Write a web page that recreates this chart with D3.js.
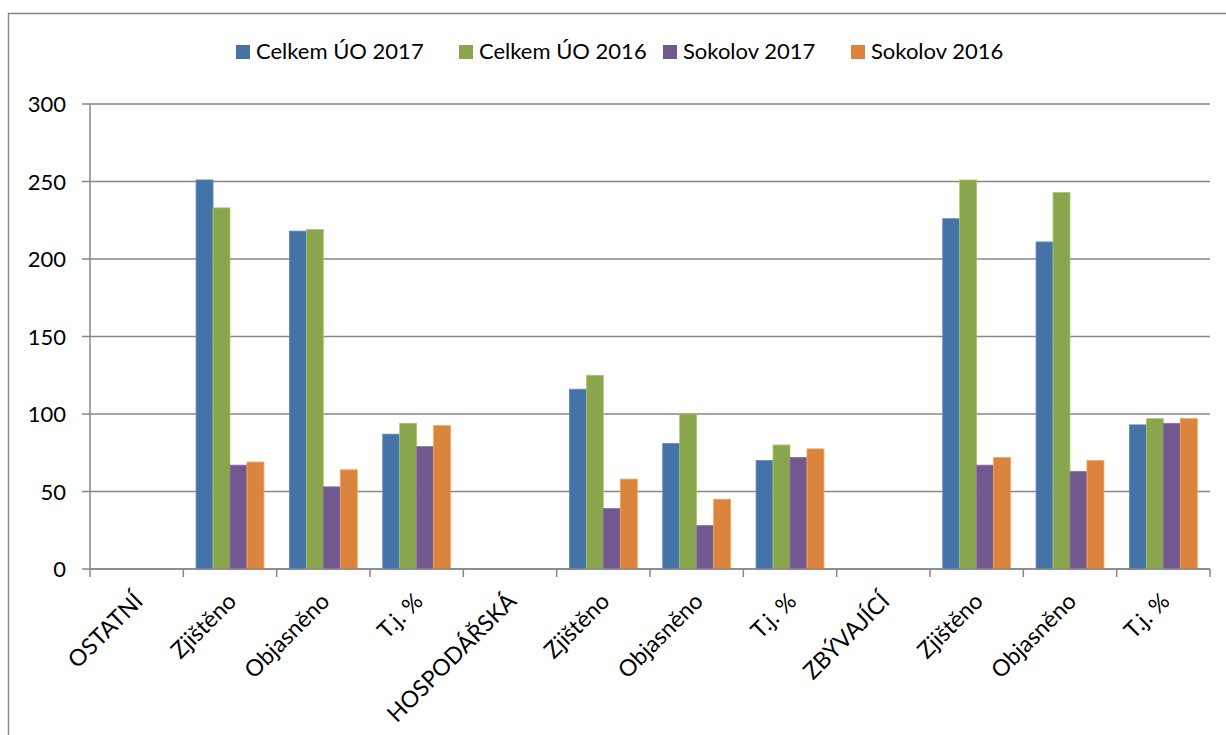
<!DOCTYPE html>
<html>
<head>
<meta charset="utf-8">
<script src="https://cdn.jsdelivr.net/npm/d3@7"></script>
<style>
  body { margin: 0; background: #fff; }
  svg text { font-family: Lato, "Open Sans", sans-serif; fill: #000; }
</style>
</head>
<body>
<svg id="chart" width="1226" height="735"></svg>
<script>
const categories = ["OSTATNÍ", "Zjištěno", "Objasněno", "T.j. %", "HOSPODÁŘSKÁ", "Zjištěno",
  "Objasněno", "T.j. %", "ZBÝVAJÍCÍ", "Zjištěno", "Objasněno", "T.j. %"];
const seriesNames = ["Celkem ÚO 2017", "Celkem ÚO 2016", "Sokolov 2017", "Sokolov 2016"];
const colors = ["#4572a7", "#89a54e", "#71588f", "#db843d"];

// null = empty header category
const celkem2017 = [null, 251, 218, 87, null, 116, 81, 70, null, 226, 211, 93];
const celkem2016 = [null, 233, 219, 94, null, 125, 100, 80, null, 251, 243, 97];
const sokolov2017 = [null, 67, 53, 79, null, 39, 28, 72, null, 67, 63, 94];
const sokolov2016 = [null, 69, 64, 92.5, null, 58, 45, 77.5, null, 72, 70, 97];
const yTicks = [0, 50, 100, 150, 200, 250, 300];

const series = [celkem2017, celkem2016, sokolov2017, sokolov2016];

const svg = d3.select("#chart");
const plotLeft = 90, plotRight = 1210, plotTop = 104, plotBottom = 569;

// outer frame
svg.append("path")
  .attr("d", "M8.5,735 V13.5 H1226")
  .attr("fill", "none")
  .attr("stroke", "#888")
  .attr("stroke-width", 1.5);

const x = d3.scaleBand().domain(d3.range(categories.length)).range([plotLeft, plotRight]).padding(0);
const xInner = d3.scaleBand().domain(d3.range(series.length))
  .range([0, x.bandwidth()]).paddingOuter(0.75).paddingInner(0);
const y = d3.scaleLinear().domain([0, 300]).range([plotBottom, plotTop]);

// gridlines
svg.append("g").selectAll("line")
  .data(yTicks)
  .enter()
  .append("line")
  .attr("x1", plotLeft - 8)
  .attr("x2", plotRight)
  .attr("y1", d => y(d))
  .attr("y2", d => y(d))
  .attr("stroke", "#878787")
  .attr("stroke-width", 1.5);

// y axis labels
svg.append("g").selectAll("text")
  .data(yTicks)
  .enter()
  .append("text")
  .attr("x", 66)
  .attr("y", d => y(d) + 8)
  .attr("text-anchor", "end")
  .style("font-size", "22px")
  .text(d => d);

// bars
series.forEach(function(values, s) {
  svg.append("g").selectAll("rect")
    .data(values.map((v, i) => ({ v: v, i: i })).filter(d => d.v !== null))
    .enter()
    .append("rect")
    .attr("x", d => x(d.i) + xInner(s))
    .attr("y", d => y(d.v))
    .attr("width", xInner.bandwidth())
    .attr("height", d => y(0) - y(d.v))
    .attr("fill", colors[s])
    .attr("stroke", d3.color(colors[s]).brighter(0.6))
    .attr("stroke-width", 0.8);
});

// axes lines
svg.append("line")
  .attr("x1", plotLeft).attr("x2", plotLeft).attr("y1", plotTop).attr("y2", plotBottom)
  .attr("stroke", "#878787").attr("stroke-width", 1.5);
svg.append("line")
  .attr("x1", plotLeft).attr("x2", plotRight).attr("y1", plotBottom).attr("y2", plotBottom)
  .attr("stroke", "#878787").attr("stroke-width", 1.5);

// x ticks
svg.append("g").selectAll("line")
  .data(d3.range(categories.length + 1))
  .enter()
  .append("line")
  .attr("x1", d => plotLeft + d * x.bandwidth())
  .attr("x2", d => plotLeft + d * x.bandwidth())
  .attr("y1", plotBottom)
  .attr("y2", plotBottom + 8)
  .attr("stroke", "#878787")
  .attr("stroke-width", 1.5);

// x labels, rotated -45
svg.append("g").selectAll("text")
  .data(categories)
  .enter()
  .append("text")
  .attr("transform", (d, i) => "translate(" + (x(i) + x.bandwidth() / 2 + 2) + "," + (plotBottom + 28) + ") rotate(-45)")
  .attr("text-anchor", "end")
  .attr("dy", "0.35em")
  .style("font-size", "23px")
  .text(d => d);

// legend
const legendX = [236, 459, 663, 851];
const legend = svg.append("g").selectAll("g")
  .data(seriesNames)
  .enter()
  .append("g")
  .attr("transform", (d, i) => "translate(" + legendX[i] + ",45)");
legend.append("rect")
  .attr("width", 14).attr("height", 14)
  .attr("fill", (d, i) => colors[i]);
legend.append("text")
  .attr("x", 20).attr("y", 14)
  .style("font-size", "22px")
  .text(d => d);
</script>
</body>
</html>
